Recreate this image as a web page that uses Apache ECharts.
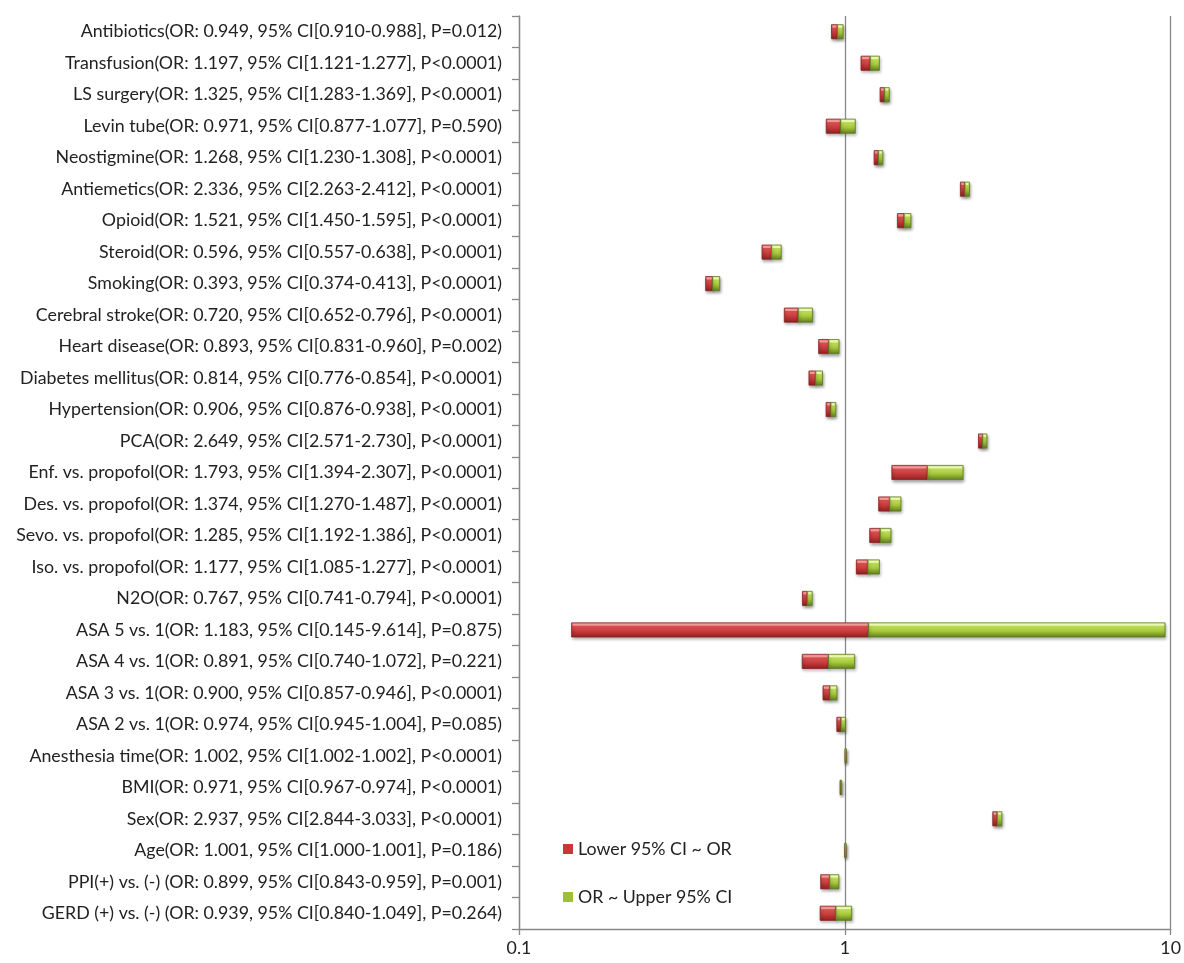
<!DOCTYPE html>
<html><head><meta charset="utf-8">
<script src="https://cdn.jsdelivr.net/npm/echarts@6/dist/echarts.min.js"></script>
<style>html,body{margin:0;padding:0;background:#fff}#c{width:1184px;height:963px}</style>
</head><body><div id="c"></div>
<script>
const names = ["Antibiotics","Transfusion","LS surgery","Levin tube","Neostigmine","Antiemetics","Opioid","Steroid","Smoking","Cerebral stroke","Heart disease","Diabetes mellitus","Hypertension","PCA","Enf. vs. propofol","Des. vs. propofol","Sevo. vs. propofol","Iso. vs. propofol","N2O","ASA 5 vs. 1","ASA 4 vs. 1","ASA 3 vs. 1","ASA 2 vs. 1","Anesthesia time","BMI","Sex","Age","PPI(+) vs. (-) ","GERD (+) vs. (-) "];
const oddsRatio = [0.949,1.197,1.325,0.971,1.268,2.336,1.521,0.596,0.393,0.720,0.893,0.814,0.906,2.649,1.793,1.374,1.285,1.177,0.767,1.183,0.891,0.900,0.974,1.002,0.971,2.937,1.001,0.899,0.939];
const lowerCI = [0.910,1.121,1.283,0.877,1.230,2.263,1.450,0.557,0.374,0.652,0.831,0.776,0.876,2.571,1.394,1.270,1.192,1.085,0.741,0.145,0.740,0.857,0.945,1.002,0.967,2.844,1.000,0.843,0.840];
const upperCI = [0.988,1.277,1.369,1.077,1.308,2.412,1.595,0.638,0.413,0.796,0.960,0.854,0.938,2.730,2.307,1.487,1.386,1.277,0.794,9.614,1.072,0.946,1.004,1.002,0.974,3.033,1.001,0.959,1.049];
const pText = ["P=0.012","P<0.0001","P<0.0001","P=0.590","P<0.0001","P<0.0001","P<0.0001","P<0.0001","P<0.0001","P<0.0001","P=0.002","P<0.0001","P<0.0001","P<0.0001","P<0.0001","P<0.0001","P<0.0001","P<0.0001","P<0.0001","P=0.875","P=0.221","P<0.0001","P=0.085","P<0.0001","P<0.0001","P<0.0001","P=0.186","P=0.001","P=0.264"];
const xTicks = [0.1, 1, 10];

const labels = names.map((n,i)=>`${n}(OR: ${oddsRatio[i].toFixed(3)}, 95% CI[${lowerCI[i].toFixed(3)}-${upperCI[i].toFixed(3)}], ${pText[i]})`);
const redData = names.map((n,i)=>[i, lowerCI[i], oddsRatio[i]]);
const greenData = names.map((n,i)=>[i, oddsRatio[i], upperCI[i]]);

const FONT = 'Lato';
const FS = 17.8;
function grad(c1,c2,c3,c4){
  return new echarts.graphic.LinearGradient(0,0,0,1,[
    {offset:0,color:c1},{offset:0.18,color:c2},{offset:0.6,color:c3},{offset:1,color:c4}]);
}
const redFill = grad('#f6a0a0','#e05858','#c63a3a','#8e2020');
const greenFill = grad('#f0ffb0','#c8e860','#a4c43a','#5e7e20');

function makeRender(fill, stroke, hi){
  return function(params, api){
    const cat = api.value(0);
    const p0 = api.coord([api.value(1), cat]);
    const p1 = api.coord([api.value(2), cat]);
    const h = api.size([0,1])[1]*0.45;
    let x = Math.min(p0[0],p1[0]);
    let w = Math.max(Math.abs(p1[0]-p0[0]), 1);
    const y = p0[1]-h/2;
    return {type:'group', children:[
      {type:'rect', shape:{x:x, y:y, width:w, height:h},
       style:{fill:fill, stroke:stroke, lineWidth:0.8, shadowBlur:3, shadowOffsetX:1, shadowOffsetY:2, shadowColor:'rgba(0,0,0,0.35)'}},
      {type:'rect', shape:{x:x+1, y:y+1, width:Math.max(w-2,0), height:2},
       style:{fill:hi}}
    ]};
  };
}

const chart = echarts.init(document.getElementById('c'), null, {renderer:'canvas'});
chart.setOption({
  animation:false,
  backgroundColor:'#fff',
  textStyle:{fontFamily:FONT},
  grid:{left:519, right:11, top:16, bottom:34, containLabel:false},
  legend:{
    orient:'vertical', left:558, top:835, itemWidth:10, itemHeight:10, itemGap:30,
    icon:'rect',
    textStyle:{fontFamily:FONT, fontSize:FS, color:'#222'},
    data:['Lower 95% CI ~ OR','OR ~ Upper 95% CI']
  },
  xAxis:{
    type:'log', logBase:10, min:xTicks[0], max:xTicks[xTicks.length-1],
    axisLine:{show:true, lineStyle:{color:'#888', width:1.3}},
    axisTick:{show:true, length:6, lineStyle:{color:'#888', width:1.3}},
    axisLabel:{fontFamily:FONT, fontSize:FS, color:'#222', margin:10,
      formatter:v=>String(+v.toPrecision(3))},
    splitLine:{show:true, lineStyle:{color:'#888', width:1.3}},
    minorTick:{show:false}
  },
  yAxis:{
    type:'category', inverse:true, data:labels,
    axisLine:{show:true, lineStyle:{color:'#888', width:1.3}},
    axisTick:{show:true, length:7, lineStyle:{color:'#888', width:1.3}},
    axisLabel:{fontFamily:FONT, fontSize:FS, color:'#222', margin:17},
    splitLine:{show:false}
  },
  series:[
    {name:'Lower 95% CI ~ OR', type:'custom', data:redData, encode:{x:[1,2], y:0},
     itemStyle:{color:'#c83838'}, renderItem:makeRender(redFill,'#8a2020','rgba(255,180,180,0.7)')},
    {name:'OR ~ Upper 95% CI', type:'custom', data:greenData, encode:{x:[1,2], y:0},
     itemStyle:{color:'#9ec038'}, renderItem:makeRender(greenFill,'#5e7e20','rgba(245,255,200,0.8)')}
  ]
});
</script></body></html>
